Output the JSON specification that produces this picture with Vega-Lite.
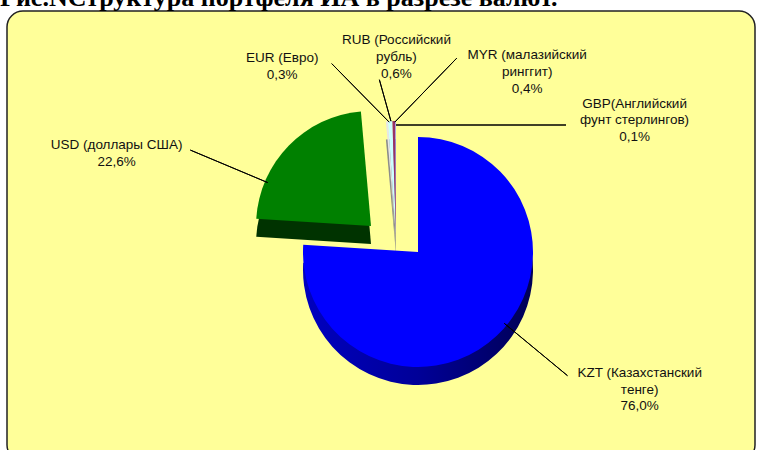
{
  "$schema": "https://vega.github.io/schema/vega-lite/v6.json",
  "autosize": "none",
  "width": 748,
  "height": 450,
  "padding": {"left": 7, "top": 11, "right": 2, "bottom": 0},
  "background": "white",
  "config": {
    "view": {"stroke": null},
    "text": {"font": "Liberation Sans", "fontSize": 13.5, "color": "#111111", "lineBreak": "\n", "lineHeight": 16.8, "align": "center", "baseline": "middle"},
    "arc": {"strokeWidth": 1}
  },
  "datasets": {
    "shares": [
      {"cur": "KZT", "ord": 1, "share": 76.0, "label": "KZT (Казахстанский\nтенге)\n76,0%"},
      {"cur": "USD", "ord": 2, "share": 22.6, "label": "USD (доллары США)\n22,6%"},
      {"cur": "EUR", "ord": 3, "share": 0.3, "label": "EUR (Евро)\n0,3%"},
      {"cur": "RUB", "ord": 4, "share": 0.6, "label": "RUB (Российский\nрубль)\n0,6%"},
      {"cur": "MYR", "ord": 5, "share": 0.4, "label": "MYR (малазийский\nринггит)\n0,4%"},
      {"cur": "GBP", "ord": 6, "share": 0.1, "label": "GBP(Английский\nфунт стерлингов)\n0,1%"}
    ],
    "frame": [{"name": "chart area", "title": "Рис.NСтруктура портфеля ИА в разрезе валют."}]
  },
  "layer": [
    {
      "data": {"name": "frame"},
      "mark": {"type": "rect", "fill": "#FFFF99", "stroke": "#222222", "strokeWidth": 1.5, "cornerRadius": 16},
      "encoding": {
        "x": {"value": 0}, "x2": {"value": "width"},
        "y": {"value": 0}, "y2": {"value": "height"}
      }
    },
    {
      "data": {"name": "frame"},
      "mark": {"type": "text", "font": "Liberation Serif", "fontSize": 26, "fontWeight": "bold", "color": "black", "align": "left", "baseline": "alphabetic"},
      "encoding": {
        "text": {"field": "title"},
        "x": {"value": -7},
        "y": {"value": -5}
      }
    },
    {
      "data": {"name": "shares"},
      "encoding": {
        "theta": {"field": "share", "type": "quantitative", "stack": true},
        "order": {"field": "ord", "type": "quantitative", "sort": "ascending"}
      },
      "layer": [
        {
          "mark": {"type": "arc", "outerRadius": 115, "xOffset": 37, "yOffset": 34, "clip": true,
            "color": {"gradient": "linear", "x1": 0, "y1": 0, "x2": 1, "y2": 0,
              "stops": [{"offset": 0, "color": "#0000C0"}, {"offset": 0.5, "color": "#000098"}, {"offset": 1, "color": "#000055"}]}},
          "encoding": {"opacity": {"condition": {"test": "datum.cur === 'KZT'", "value": 1}, "value": 0}}
        },
        {
          "mark": {"type": "arc", "outerRadius": 115, "color": "#003300", "xOffset": -10, "yOffset": 8, "clip": true},
          "encoding": {"opacity": {"condition": {"test": "datum.cur === 'USD'", "value": 1}, "value": 0}}
        },
        {
          "mark": {"type": "arc", "outerRadius": 115, "color": "#8C8C8C", "xOffset": 15, "yOffset": 18, "clip": true},
          "encoding": {"opacity": {"condition": {"test": "datum.share < 1", "value": 1}, "value": 0}}
        },
        {
          "mark": {"type": "arc", "outerRadius": 115, "xOffset": 37, "yOffset": 16, "clip": true},
          "encoding": {
            "color": {"field": "cur", "type": "nominal", "legend": null,
              "scale": {"domain": ["KZT", "USD", "EUR", "RUB", "MYR", "GBP"], "range": ["#0000FF", "#008000", "#E6E6E6", "#CCFFFF", "#993366", "#9999FF"]}},
            "opacity": {"condition": {"test": "datum.cur === 'KZT'", "value": 1}, "value": 0}
          }
        },
        {
          "mark": {"type": "arc", "outerRadius": 115, "xOffset": -10, "yOffset": -10, "clip": true},
          "encoding": {
            "color": {"field": "cur", "type": "nominal", "legend": null},
            "opacity": {"condition": {"test": "datum.cur === 'USD'", "value": 1}, "value": 0}
          }
        },
        {
          "mark": {"type": "arc", "outerRadius": 115, "xOffset": 15, "yOffset": 0, "clip": true},
          "encoding": {
            "color": {"field": "cur", "type": "nominal", "legend": null},
            "opacity": {"condition": {"test": "datum.share < 1", "value": 1}, "value": 0}
          }
        },
        {
          "mark": {"type": "arc", "innerRadius": 112, "outerRadius": 194, "padAngle": 3, "fill": null, "stroke": "black", "clip": true,
            "xOffset": 37, "yOffset": 16, "thetaOffset": -3.2233, "theta2Offset": -3.2233},
          "encoding": {"strokeOpacity": {"condition": {"test": "datum.cur === 'USD'", "value": 1}, "value": 0}}
        },
        {
          "mark": {"type": "arc", "innerRadius": 112, "outerRadius": 196, "padAngle": 3, "fill": null, "stroke": "black", "clip": true,
            "xOffset": -10, "yOffset": -10, "thetaOffset": -0.375, "theta2Offset": -0.375},
          "encoding": {"strokeOpacity": {"condition": {"test": "datum.cur === 'USD'", "value": 1}, "value": 0}}
        },
        {
          "mark": {"type": "arc", "innerRadius": 4, "outerRadius": 86, "padAngle": 3, "fill": null, "stroke": "black", "clip": true,
            "xOffset": 11, "yOffset": -111, "thetaOffset": -0.698, "theta2Offset": -0.698},
          "encoding": {"strokeOpacity": {"condition": {"test": "datum.cur === 'EUR'", "value": 1}, "value": 0}}
        },
        {
          "mark": {"type": "arc", "innerRadius": 4, "outerRadius": 47, "padAngle": 3, "fill": null, "stroke": "black", "clip": true,
            "xOffset": 11, "yOffset": -111, "thetaOffset": -0.2217, "theta2Offset": -0.2217},
          "encoding": {"strokeOpacity": {"condition": {"test": "datum.cur === 'RUB'", "value": 1}, "value": 0}}
        },
        {
          "mark": {"type": "arc", "innerRadius": 4, "outerRadius": 93, "padAngle": 3, "fill": null, "stroke": "black", "clip": true,
            "xOffset": 11, "yOffset": -111, "thetaOffset": 0.7885, "theta2Offset": 0.7885},
          "encoding": {"strokeOpacity": {"condition": {"test": "datum.cur === 'MYR'", "value": 1}, "value": 0}}
        },
        {
          "mark": {"type": "arc", "innerRadius": 4, "outerRadius": 174, "padAngle": 3, "fill": null, "stroke": "black", "clip": true,
            "xOffset": 11, "yOffset": -111, "thetaOffset": 1.574, "theta2Offset": 1.574},
          "encoding": {"strokeOpacity": {"condition": {"test": "datum.cur === 'GBP'", "value": 1}, "value": 0}}
        },
        {
          "mark": {"type": "text", "radius": 150, "dx": 156, "dy": 27.5},
          "encoding": {"text": {"condition": {"test": "datum.cur === 'KZT'", "field": "label"}, "value": ""}}
        },
        {
          "mark": {"type": "text", "radius": 150, "dx": -157, "dy": 14},
          "encoding": {"text": {"condition": {"test": "datum.cur === 'USD'", "field": "label"}, "value": ""}}
        },
        {
          "mark": {"type": "text", "radius": 150, "dx": -87, "dy": -28},
          "encoding": {"text": {"condition": {"test": "datum.cur === 'EUR'", "field": "label"}, "value": ""}}
        },
        {
          "mark": {"type": "text", "radius": 150, "dx": 23, "dy": -46},
          "encoding": {"text": {"condition": {"test": "datum.cur === 'RUB'", "field": "label"}, "value": ""}}
        },
        {
          "mark": {"type": "text", "radius": 150, "dx": 149, "dy": -31},
          "encoding": {"text": {"condition": {"test": "datum.cur === 'MYR'", "field": "label"}, "value": ""}}
        },
        {
          "mark": {"type": "text", "radius": 150, "dx": 254, "dy": 17.5},
          "encoding": {"text": {"condition": {"test": "datum.cur === 'GBP'", "field": "label"}, "value": ""}}
        }
      ]
    }
  ]
}
